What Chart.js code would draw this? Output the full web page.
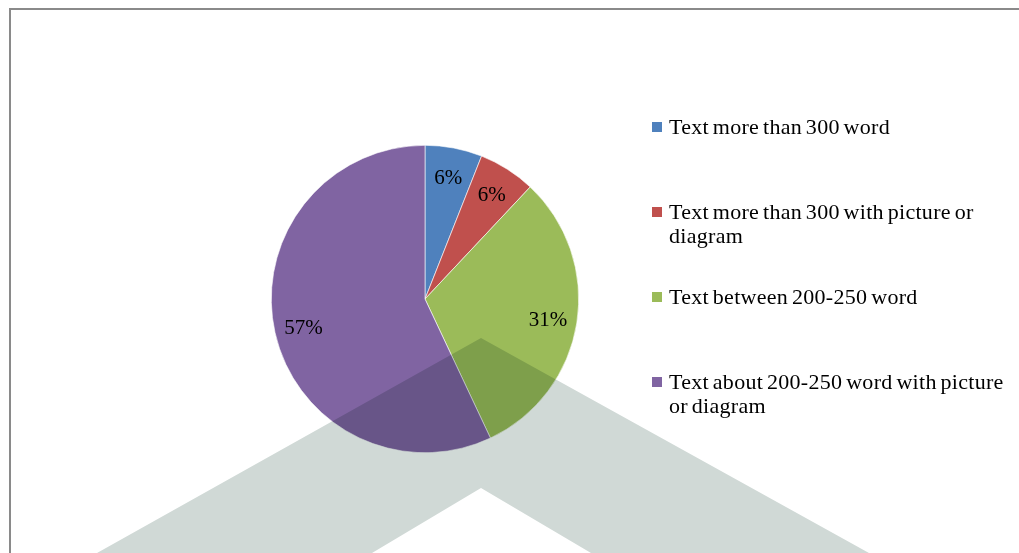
<!DOCTYPE html>
<html>
<head>
<meta charset="utf-8">
<script src="https://cdn.jsdelivr.net/npm/chart.js@4"></script>
<style>
  html, body { margin: 0; padding: 0; background: #fff; }
  #wrap { position: relative; width: 1019px; height: 553px; overflow: hidden; }
  #frame { position: absolute; left: 9px; top: 8px; width: 1100px; height: 700px;
           border-left: 2px solid #8a8a8a; border-top: 2px solid #8a8a8a; box-sizing: border-box; }
  #chart { position: absolute; left: 0; top: 0; }
  #legend { position: absolute; left: 652px; top: 0; width: 366px;
            font-family: "Liberation Serif", "Times New Roman", serif; font-size: 22px; color: #000; }
  .item { position: absolute; left: 0; width: 366px; line-height: 24px; }
  .sw { position: absolute; left: 0; top: 7px; width: 10px; height: 10px; }
  .txt { margin-left: 17px; letter-spacing: 0.3px; word-spacing: -2px; }
</style>
</head>
<body>
<div id="wrap">
  <div id="frame"></div>
  <canvas id="chart" width="1019" height="553"></canvas>
  <div id="legend"></div>
</div>
<script>
const categories = [
  "Text more than 300 word",
  "Text more than 300 with picture or diagram",
  "Text between 200-250 word",
  "Text about 200-250 word with picture or diagram"
];
const values = [6, 6, 31, 57];
const colors = ["#4F81BD", "#C0504D", "#9BBB59", "#8064A2"];

// custom legend (wrapping text like the original)
const legend = document.getElementById('legend');
categories.forEach((c, i) => {
  const d = document.createElement('div');
  d.className = 'item';
  d.style.top = (115 + i * 85) + 'px';
  d.innerHTML = '<span class="sw" style="background:' + colors[i] + '"></span><div class="txt">' + c + '</div>';
  legend.appendChild(d);
});

const labelPlugin = {
  id: 'pctLabels',
  afterDatasetsDraw(chart) {
    const ctx = chart.ctx;
    const meta = chart.getDatasetMeta(0);
    const data = chart.data.datasets[0].data;
    const total = data.reduce((a, b) => a + b, 0);
    ctx.save();
    ctx.font = '21px "Liberation Serif", "Times New Roman", serif';
    ctx.fillStyle = '#000';
    ctx.textAlign = 'center';
    ctx.textBaseline = 'middle';
    meta.data.forEach((arc, i) => {
      const p = arc.getProps(['x', 'y', 'startAngle', 'endAngle', 'outerRadius'], true);
      const mid = (p.startAngle + p.endAngle) / 2;
      const r = p.outerRadius * 0.81;
      const x = p.x + Math.cos(mid) * r;
      const y = p.y + Math.sin(mid) * r + 2;
      ctx.fillText(Math.round(data[i] / total * 100) + '%', x, y);
    });
    ctx.restore();
  }
};

// background chevron watermark (decoration, multiplied over the chart)
const watermark = {
  id: 'watermark',
  afterDraw(chart) {
    const ctx = chart.ctx;
    ctx.save();
    ctx.globalCompositeOperation = 'multiply';
    ctx.fillStyle = '#D0D9D6';
    ctx.beginPath();
    ctx.moveTo(481, 338);
    ctx.lineTo(869, 553);
    ctx.lineTo(591, 553);
    ctx.lineTo(481, 488);
    ctx.lineTo(372, 553);
    ctx.lineTo(97, 553);
    ctx.closePath();
    ctx.fill();
    ctx.restore();
  }
};

new Chart(document.getElementById('chart'), {
  type: 'pie',
  data: {
    labels: categories,
    datasets: [{
      data: values,
      backgroundColor: colors,
      borderColor: '#ffffff',
      borderWidth: 0.6
    }]
  },
  options: {
    responsive: false,
    animation: false,
    layout: { padding: { left: 271, right: 440, top: 145, bottom: 100 } },
    plugins: { legend: { display: false }, tooltip: { enabled: false } }
  },
  plugins: [labelPlugin, watermark]
});
</script>
</body>
</html>
